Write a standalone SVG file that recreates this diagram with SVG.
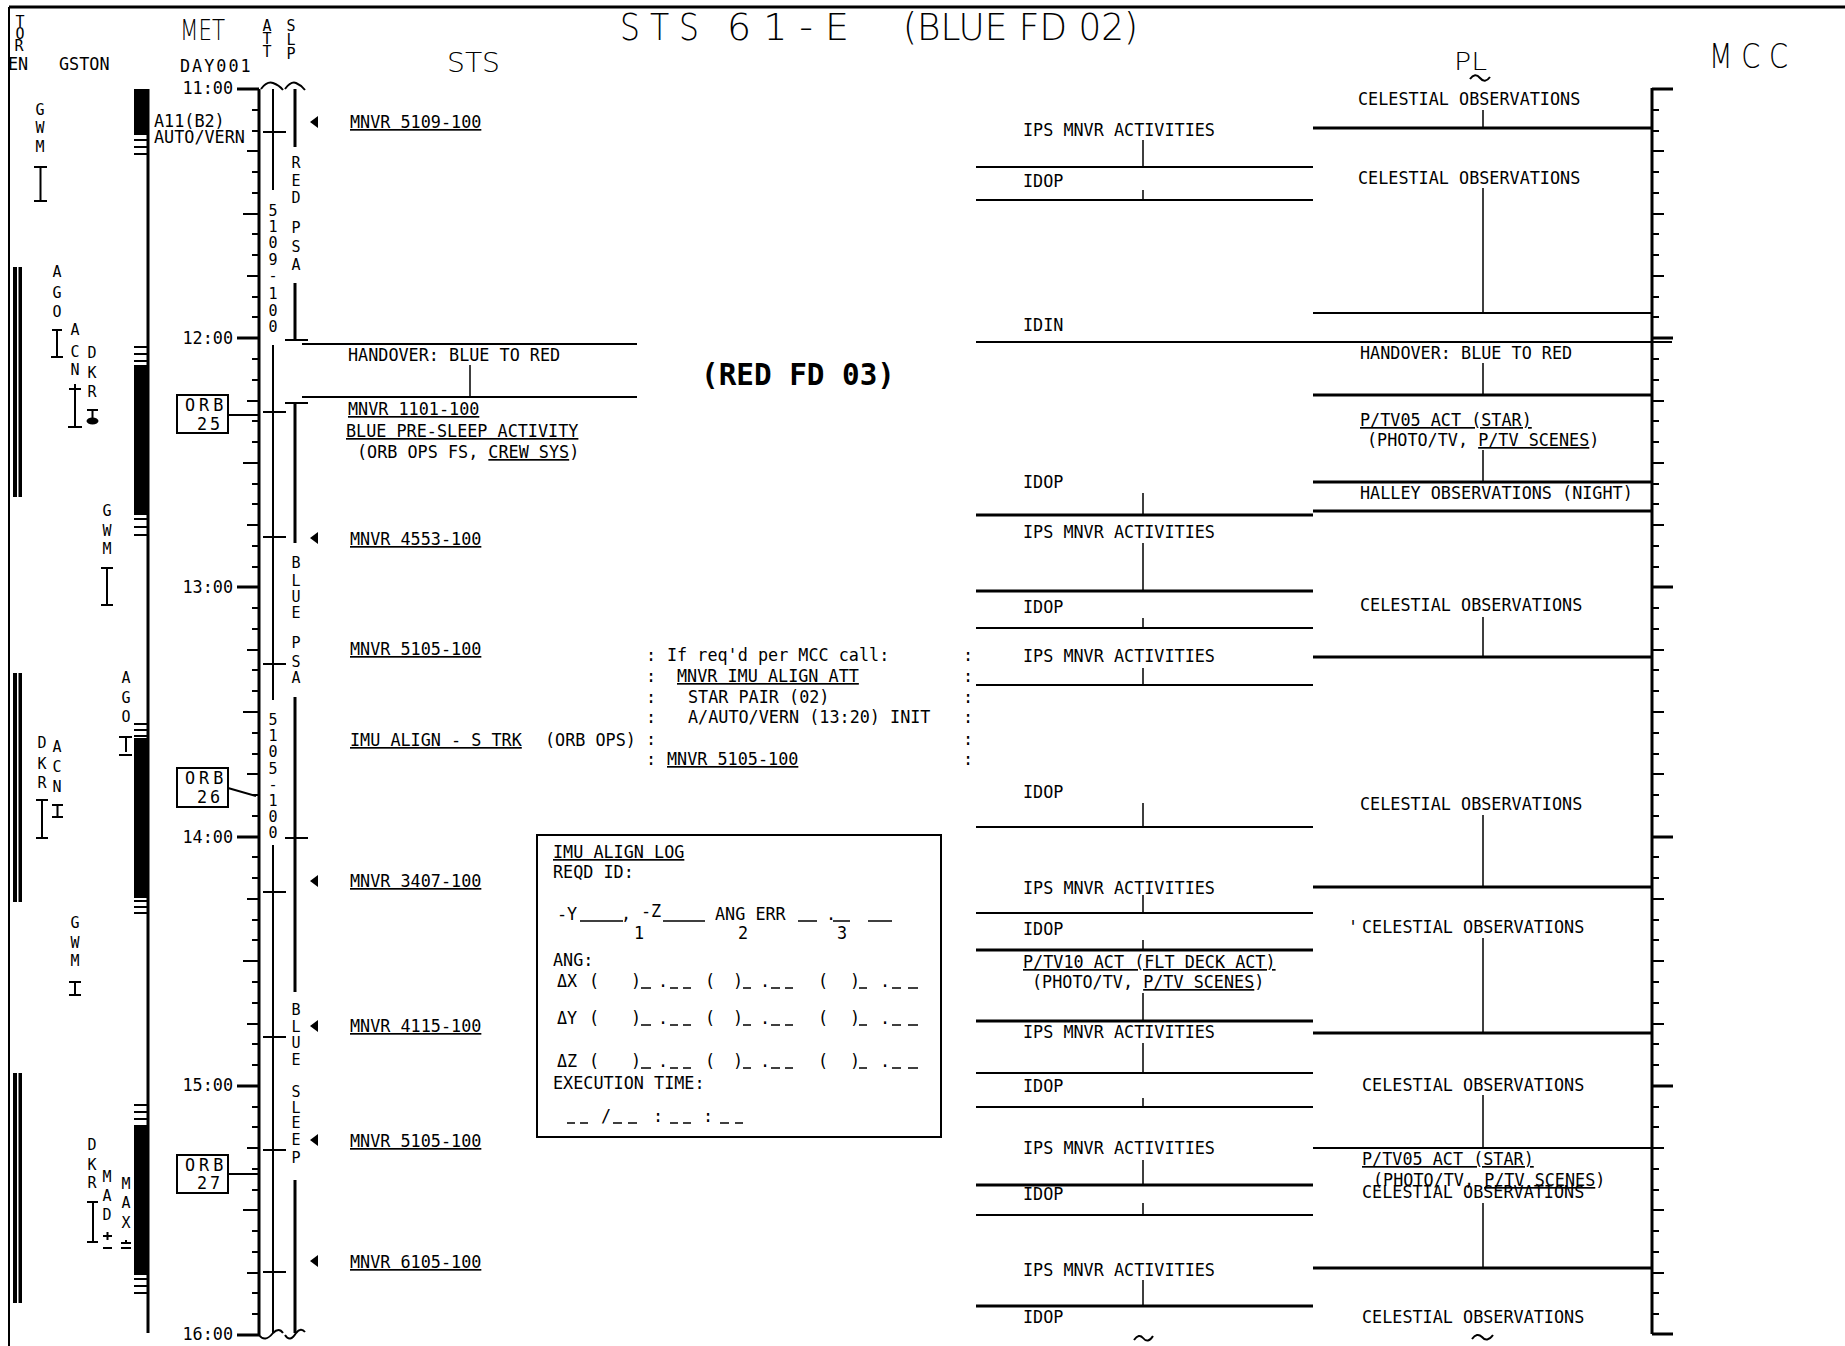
<svg xmlns="http://www.w3.org/2000/svg" width="1845" height="1346" viewBox="0 0 1845 1346">
<style>
text{fill:#000}
.t{font-family:"DejaVu Sans Mono","Liberation Mono",monospace;font-size:16.8px}
.s{font-family:"DejaVu Sans Mono","Liberation Mono",monospace;font-size:15px;text-anchor:middle}
.h{font-family:"DejaVu Sans","Liberation Sans",sans-serif;font-weight:200}
.b{font-family:"DejaVu Sans Mono","Liberation Mono",monospace;font-weight:bold}
.u{text-decoration:underline}
.l1{stroke:#000;stroke-width:1.5;fill:none}
.l2{stroke:#000;stroke-width:2;fill:none}
.l3{stroke:#000;stroke-width:3;fill:none}
</style>
<rect width="1845" height="1346" fill="#fff"/>

<g id="page-border">
<path class="l2" d="M9 1346V7"/>
<path class="l3" d="M9 7H1845"/>
</g>

<g id="headers">
<text class="s" font-size="11"><tspan x="20" y="27">T</tspan><tspan x="20" y="39">O</tspan><tspan x="19" y="51">R</tspan></text>
<text class="t" x="8" y="70" font-size="14">EN</text>
<text class="t" x="59" y="70">GSTON</text>
<text class="h" x="180" y="40" font-size="28" textLength="45" lengthAdjust="spacingAndGlyphs">MET</text>
<text class="t" x="180" y="72" letter-spacing="2">DAY001</text>
<text class="s" font-size="14"><tspan x="267" y="31">A</tspan><tspan x="267" y="44">T</tspan><tspan x="267" y="57">T</tspan></text>
<text class="s" font-size="14"><tspan x="291" y="31">S</tspan><tspan x="291" y="45">L</tspan><tspan x="291" y="59">P</tspan></text>
<text class="h" x="447" y="72" font-size="26" textLength="53" lengthAdjust="spacingAndGlyphs">STS</text>
<text class="h" x="620" y="40" font-size="37" textLength="79" lengthAdjust="spacingAndGlyphs">S T S</text>
<text class="h" x="727" y="40" font-size="37" textLength="122" lengthAdjust="spacingAndGlyphs">6 1 - E</text>
<text class="h" x="903" y="40" font-size="37" textLength="235" lengthAdjust="spacingAndGlyphs">(BLUE FD 02)</text>
<text class="h" x="1454" y="70" font-size="24" textLength="33" lengthAdjust="spacingAndGlyphs">PL</text>
<path class="l2" d="M1470 79Q1475 72 1480 78Q1485 84 1490 77"/>
<text class="h" x="1709" y="68" font-size="34" textLength="79" lengthAdjust="spacingAndGlyphs">M C C</text>
</g>

<g id="met-axis">
<path class="l3" d="M259 89V1335"/>
<path class="l3" d="M237 89H259M237 338H259M237 587H259M237 837H259M237 1086H259M237 1335H259"/>
<path class="l2" d="M243 214H259M243 463H259M243 712H259M243 961H259M243 1210H259M247 151H259M247 276H259M247 401H259M247 525H259M247 650H259M247 774H259M247 899H259M247 1024H259M247 1148H259M247 1273H259"/>
<path class="l2" d="M252 110H259M252 131H259M252 172H259M252 193H259M252 234H259M252 255H259M252 297H259M252 317H259M252 359H259M252 380H259M252 421H259M252 442H259M252 484H259M252 504H259M252 546H259M252 567H259M252 608H259M252 629H259M252 670H259M252 691H259M252 733H259M252 754H259M252 795H259M252 816H259M252 857H259M252 878H259M252 920H259M252 940H259M252 982H259M252 1003H259M252 1044H259M252 1065H259M252 1107H259M252 1127H259M252 1169H259M252 1190H259M252 1231H259M252 1252H259M252 1293H259M252 1314H259"/>
<text class="t" text-anchor="end" x="233" y="94">11:00</text>
<text class="t" text-anchor="end" x="233" y="344">12:00</text>
<text class="t" text-anchor="end" x="233" y="593">13:00</text>
<text class="t" text-anchor="end" x="233" y="843">14:00</text>
<text class="t" text-anchor="end" x="233" y="1091">15:00</text>
<text class="t" text-anchor="end" x="233" y="1340">16:00</text>
<path class="l2" d="M261 89Q267 81 273 83Q279 85 283 90M285 89Q291 81 296 83Q301 85 305 90"/>
<path class="l2" d="M259 1335Q265 1343 273 1333Q279 1327 283 1333M285 1335Q290 1343 296 1333Q301 1327 305 1332"/>
</g>

<g id="att-slp">
<path class="l2" d="M273 89V190M273 345V700M273 845V1333"/>
<path class="l3" d="M295 89V147M295 283V340M295 403V543M295 697V992M295 1180V1333"/>
<path class="l2" d="M285 340H308M285 403H308M285 838H308"/>
<path class="l2" d="M263 132H286M263 412H286M263 537H286M263 664H286M263 892H286M263 1037H286M263 1150H286M263 1272H286"/>
<text class="s" font-size="16"><tspan x="273" y="216">5</tspan><tspan x="273" y="232">1</tspan><tspan x="273" y="248">0</tspan><tspan x="273" y="265">9</tspan><tspan x="273" y="281">-</tspan><tspan x="273" y="299">1</tspan><tspan x="273" y="316">0</tspan><tspan x="273" y="332">0</tspan></text>
<text class="s" font-size="16"><tspan x="273" y="725">5</tspan><tspan x="273" y="741">1</tspan><tspan x="273" y="757">0</tspan><tspan x="273" y="774">5</tspan><tspan x="273" y="790">-</tspan><tspan x="273" y="806">1</tspan><tspan x="273" y="822">0</tspan><tspan x="273" y="838">0</tspan></text>
<text class="s" font-size="16"><tspan x="296" y="168">R</tspan><tspan x="296" y="186">E</tspan><tspan x="296" y="203">D</tspan><tspan x="296" y="233">P</tspan><tspan x="296" y="252">S</tspan><tspan x="296" y="270">A</tspan></text>
<text class="s" font-size="16"><tspan x="296" y="568">B</tspan><tspan x="296" y="586">L</tspan><tspan x="296" y="602">U</tspan><tspan x="296" y="618">E</tspan><tspan x="296" y="648">P</tspan><tspan x="296" y="667">S</tspan><tspan x="296" y="683">A</tspan></text>
<text class="s" font-size="16"><tspan x="296" y="1015">B</tspan><tspan x="296" y="1032">L</tspan><tspan x="296" y="1048">U</tspan><tspan x="296" y="1065">E</tspan><tspan x="296" y="1097">S</tspan><tspan x="296" y="1113">L</tspan><tspan x="296" y="1128">E</tspan><tspan x="296" y="1145">E</tspan><tspan x="296" y="1163">P</tspan></text>
</g>

<g id="gston">
<rect x="13" y="267" width="4" height="230"/><rect x="18.5" y="267" width="3.5" height="230"/>
<rect x="13" y="673" width="4" height="229"/><rect x="18.5" y="673" width="3.5" height="229"/>
<rect x="13" y="1073" width="4" height="230"/><rect x="18.5" y="1073" width="3.5" height="230"/>
<path class="l3" d="M148 89V1333"/>
<rect x="134" y="89" width="15" height="46"/>
<rect x="134" y="365" width="15" height="150"/>
<rect x="134" y="738" width="15" height="160"/>
<rect x="134" y="1125" width="15" height="150"/>
<path class="l2" d="M134 140H149M134 147H149M134 154H149M134 347H149M134 354H149M134 361H149M134 519H149M134 527H149M134 535H149M134 724H149M134 730H149M134 736H149M134 901H149M134 907H149M134 913H149M134 1105H149M134 1112H149M134 1119H149M134 1279H149M134 1286H149M134 1293H149"/>
<text class="t" x="154" y="127">A11(B2)</text>
<text class="t" x="154" y="143">AUTO/VERN</text>
<text class="s"><tspan x="40" y="115">G</tspan><tspan x="40" y="133">W</tspan><tspan x="40" y="152">M</tspan></text>
<text class="s"><tspan x="57" y="277">A</tspan><tspan x="57" y="298">G</tspan><tspan x="57" y="317">O</tspan></text>
<text class="s"><tspan x="75" y="335">A</tspan><tspan x="75" y="357">C</tspan><tspan x="75" y="375">N</tspan></text>
<text class="s"><tspan x="92" y="358">D</tspan><tspan x="92" y="378">K</tspan><tspan x="92" y="397">R</tspan></text>
<text class="s"><tspan x="107" y="516">G</tspan><tspan x="107" y="536">W</tspan><tspan x="107" y="554">M</tspan></text>
<text class="s"><tspan x="126" y="683">A</tspan><tspan x="126" y="703">G</tspan><tspan x="126" y="722">O</tspan></text>
<text class="s"><tspan x="42" y="748">D</tspan><tspan x="42" y="769">K</tspan><tspan x="42" y="788">R</tspan></text>
<text class="s"><tspan x="57" y="752">A</tspan><tspan x="57" y="772">C</tspan><tspan x="57" y="792">N</tspan></text>
<text class="s"><tspan x="75" y="928">G</tspan><tspan x="75" y="948">W</tspan><tspan x="75" y="966">M</tspan></text>
<text class="s"><tspan x="92" y="1150">D</tspan><tspan x="92" y="1170">K</tspan><tspan x="92" y="1188">R</tspan></text>
<text class="s"><tspan x="107" y="1182">M</tspan><tspan x="107" y="1201">A</tspan><tspan x="107" y="1220">D</tspan></text>
<text class="s"><tspan x="126" y="1189">M</tspan><tspan x="126" y="1208">A</tspan><tspan x="126" y="1228">X</tspan></text>
<path class="l2" d="M34 167H47M40.5 167V201M34 201H47"/>
<path class="l2" d="M52 330H62M57 330V357M51 357H63"/>
<path class="l2" d="M69 389H81M75 384V427M68 427H82"/>
<path class="l2" d="M87 410H98M92.5 410V418"/>
<ellipse cx="92.5" cy="421" rx="6" ry="3.5"/>
<path class="l2" d="M101 568H113M107 568V605M101 605H113"/>
<path class="l2" d="M119 737H132M126 737V752M119 755H132"/>
<path class="l2" d="M36 800H48M42 800V838M36 838H48"/>
<path class="l2" d="M52 805H63M57.5 805V817M52 817H63"/>
<path class="l2" d="M69 982H81M75 982V995M69 995H81"/>
<path class="l2" d="M87 1202H98M93 1202V1242M87 1242H98"/>
<path class="l2" d="M103 1236H112M107.5 1232V1240M103 1248H112"/>
<path class="l2" d="M121 1243H131M126 1240V1243M121 1248H131"/>
</g>

<g id="orb25"><rect class="l2" x="177" y="395" width="51" height="38"/><text class="t" font-size="16" x="185" y="411" letter-spacing="4">ORB</text><text class="t" font-size="16" x="197" y="430" letter-spacing="3">25</text></g>
<g id="orb26"><rect class="l2" x="177" y="768" width="51" height="39"/><text class="t" font-size="16" x="185" y="784" letter-spacing="4">ORB</text><text class="t" font-size="16" x="197" y="803" letter-spacing="3">26</text></g>
<g id="orb27"><rect class="l2" x="177" y="1155" width="51" height="38"/><text class="t" font-size="16" x="185" y="1171" letter-spacing="4">ORB</text><text class="t" font-size="16" x="197" y="1189" letter-spacing="3">27</text></g>

<g id="sts-activities">
<path d="M310 122L318 116V128ZM310 538L318 532V544ZM310 881L318 875V887ZM310 1026L318 1020V1032ZM310 1140L318 1134V1146ZM310 1261L318 1255V1267Z"/>
<text class="t u" x="350" y="128">MNVR  5109-100</text>
<text class="t" x="348" y="361">HANDOVER:  BLUE TO RED</text>
<text class="t u" x="348" y="415">MNVR  1101-100</text>
<text class="t u" x="346" y="437">BLUE PRE-SLEEP ACTIVITY</text>
<text class="t" x="357" y="458">(ORB OPS FS, <tspan class="u">CREW SYS</tspan>)</text>
<text class="t u" x="350" y="545">MNVR  4553-100</text>
<text class="t u" x="350" y="655">MNVR  5105-100</text>
<text class="t" x="350" y="746"><tspan class="u">IMU ALIGN - S TRK</tspan></text>
<text class="t" x="545" y="746">(ORB OPS)</text>
<text class="t u" x="350" y="887">MNVR  3407-100</text>
<text class="t u" x="350" y="1032">MNVR  4115-100</text>
<text class="t u" x="350" y="1147">MNVR  5105-100</text>
<text class="t u" x="350" y="1268">MNVR  6105-100</text>
<text class="b" x="701" y="385" font-size="30" textLength="194" lengthAdjust="spacingAndGlyphs">(RED FD 03)</text>
</g>

<g id="contingency-note">
<text class="t" x="646" y="661">:</text><text class="t" x="667" y="661">If req'd per MCC call:</text>
<text class="t" x="646" y="682">:</text><text class="t u" x="677" y="682">MNVR IMU ALIGN ATT</text>
<text class="t" x="646" y="703">:</text><text class="t" x="688" y="703">STAR PAIR (02)</text>
<text class="t" x="646" y="723">:</text><text class="t" x="688" y="723">A/AUTO/VERN (13:20) INIT</text>
<text class="t" x="646" y="745">:</text>
<text class="t" x="646" y="765">:</text><text class="t u" x="667" y="765">MNVR  5105-100</text>
<text class="t" x="963" y="661">:</text><text class="t" x="963" y="682">:</text><text class="t" x="963" y="703">:</text><text class="t" x="963" y="723">:</text><text class="t" x="963" y="745">:</text><text class="t" x="963" y="765">:</text>
</g>

<g id="imu-align-log">
<rect class="l2" x="537" y="835" width="404" height="302"/>
<text class="t u" x="553" y="858">IMU ALIGN LOG</text>
<text class="t" x="553" y="878">REQD ID:</text>
<text class="t" x="557" y="920">-Y</text><text class="t" x="621" y="920">,</text><text class="t" x="641" y="917">-Z</text>
<text class="t" x="715" y="920">ANG ERR</text><text class="t" x="826" y="920">.</text>
<path class="l1" d="M580 921H623M663 921H705M798 921H817M833 921H850M868 921H892"/>
<text class="t" x="634" y="939">1</text><text class="t" x="738" y="939">2</text><text class="t" x="837" y="939">3</text>
<text class="t" x="553" y="966">ANG:</text>
<text class="t" y="987"><tspan x="557">ΔX</tspan><tspan x="589">(</tspan><tspan x="631">)</tspan><tspan x="658">.</tspan><tspan x="705">(</tspan><tspan x="733">)</tspan><tspan x="760">.</tspan><tspan x="818">(</tspan><tspan x="850">)</tspan><tspan x="880">.</tspan></text>
<path class="l1" d="M641 988H651M670 988H678M683 988H691M743 988H751M771 988H780M785 988H793M859 988H867M892 988H901M908 988H918"/>
<text class="t" y="1024"><tspan x="557">ΔY</tspan><tspan x="589">(</tspan><tspan x="631">)</tspan><tspan x="658">.</tspan><tspan x="705">(</tspan><tspan x="733">)</tspan><tspan x="760">.</tspan><tspan x="818">(</tspan><tspan x="850">)</tspan><tspan x="880">.</tspan></text>
<path class="l1" d="M641 1025H651M670 1025H678M683 1025H691M743 1025H751M771 1025H780M785 1025H793M859 1025H867M892 1025H901M908 1025H918"/>
<text class="t" y="1067"><tspan x="557">ΔZ</tspan><tspan x="589">(</tspan><tspan x="631">)</tspan><tspan x="658">.</tspan><tspan x="705">(</tspan><tspan x="733">)</tspan><tspan x="760">.</tspan><tspan x="818">(</tspan><tspan x="850">)</tspan><tspan x="880">.</tspan></text>
<path class="l1" d="M641 1068H651M670 1068H678M683 1068H691M743 1068H751M771 1068H780M785 1068H793M859 1068H867M892 1068H901M908 1068H918"/>
<text class="t" x="553" y="1089">EXECUTION TIME:</text>
<text class="t" y="1122"><tspan x="601">/</tspan><tspan x="653">:</tspan><tspan x="703">:</tspan></text>
<path class="l1" d="M567 1123H575M580 1123H588M613 1123H622M628 1123H637M670 1123H678M683 1123H691M720 1123H729M735 1123H743"/>
</g>

<g id="connectors">
<path class="l2" d="M302 344H637M302 397H637"/>
<path class="l1" d="M470 365V397"/>
<path class="l2" d="M228 415H259M228 788L256 796M228 1174H259"/>
<path class="l2" d="M976 167H1313M976 200H1313M976 342H1313M976 628H1313M976 685H1313M976 827H1313M976 913H1313M976 1073H1313M976 1107H1313M976 1215H1313"/>
<path class="l3" d="M976 515H1313M976 591H1313M976 950H1313M976 1021H1313M976 1185H1313M976 1306H1313"/>
<path class="l1" d="M1143 140V167M1143 190V200M1143 493V515M1143 543V591M1143 618V628M1143 668V685M1143 803V827M1143 895V913M1143 940V950M1143 993V1021M1143 1043V1073M1143 1098V1107M1143 1160V1185M1143 1203V1215M1143 1280V1306"/>
<path class="l3" d="M1313 128H1652M1313 395H1652M1313 482H1652M1313 511H1652M1313 657H1652M1313 887H1652M1313 1033H1652M1313 1268H1652"/>
<path class="l2" d="M1313 313H1652M1313 342H1672M1313 1148H1652"/>
<path class="l1" d="M1483 110V128M1483 188V313M1483 363V395M1483 450V482M1483 617V657M1483 815V887M1483 938V1033M1483 1095V1148M1483 1203V1268"/>
</g>

<g id="ips-column">
<text class="t" x="1023" y="136">IPS MNVR ACTIVITIES</text>
<text class="t" x="1023" y="187">IDOP</text>
<text class="t" x="1023" y="331">IDIN</text>
<text class="t" x="1023" y="488">IDOP</text>
<text class="t" x="1023" y="538">IPS MNVR ACTIVITIES</text>
<text class="t" x="1023" y="613">IDOP</text>
<text class="t" x="1023" y="662">IPS MNVR ACTIVITIES</text>
<text class="t" x="1023" y="798">IDOP</text>
<text class="t" x="1023" y="894">IPS MNVR ACTIVITIES</text>
<text class="t" x="1023" y="935">IDOP</text>
<text class="t u" x="1023" y="968">P/TV10 ACT (FLT DECK ACT)</text>
<text class="t" x="1032" y="988">(PHOTO/TV, <tspan class="u">P/TV SCENES</tspan>)</text>
<text class="t" x="1023" y="1038">IPS MNVR ACTIVITIES</text>
<text class="t" x="1023" y="1092">IDOP</text>
<text class="t" x="1023" y="1154">IPS MNVR ACTIVITIES</text>
<text class="t" x="1023" y="1200">IDOP</text>
<text class="t" x="1023" y="1276">IPS MNVR ACTIVITIES</text>
<text class="t" x="1023" y="1323">IDOP</text>
<path class="l2" d="M1134 1340Q1139 1333 1143 1338Q1148 1344 1153 1336"/>
</g>

<g id="pl-column">
<text class="t" x="1358" y="105">CELESTIAL OBSERVATIONS</text>
<text class="t" x="1358" y="184">CELESTIAL OBSERVATIONS</text>
<text class="t" x="1360" y="359">HANDOVER:  BLUE TO RED</text>
<text class="t u" x="1360" y="426">P/TV05 ACT (STAR)</text>
<text class="t" x="1367" y="446">(PHOTO/TV, <tspan class="u">P/TV SCENES</tspan>)</text>
<text class="t" x="1360" y="499">HALLEY OBSERVATIONS (NIGHT)</text>
<text class="t" x="1360" y="611">CELESTIAL OBSERVATIONS</text>
<text class="t" x="1360" y="810">CELESTIAL OBSERVATIONS</text>
<text class="t" x="1348" y="933" font-size="10">'</text>
<text class="t" x="1362" y="933">CELESTIAL OBSERVATIONS</text>
<text class="t" x="1362" y="1091">CELESTIAL OBSERVATIONS</text>
<text class="t u" x="1362" y="1165">P/TV05 ACT (STAR)</text>
<text class="t" x="1373" y="1186">(PHOTO/TV, <tspan class="u">P/TV SCENES</tspan>)</text>
<text class="t" x="1362" y="1198">CELESTIAL OBSERVATIONS</text>
<text class="t" x="1362" y="1323">CELESTIAL OBSERVATIONS</text>
<path class="l2" d="M1472 1339Q1477 1332 1482 1337Q1487 1343 1493 1335"/>
</g>

<g id="mcc-axis">
<path class="l3" d="M1652 88V1334"/>
<path class="l3" d="M1652 89H1673M1652 338H1673M1652 587H1673M1652 837H1673M1652 1086H1673M1652 1334H1673"/>
<path class="l2" d="M1652 151H1664M1652 214H1664M1652 276H1664M1652 401H1664M1652 463H1664M1652 525H1664M1652 650H1664M1652 712H1664M1652 774H1664M1652 899H1664M1652 961H1664M1652 1024H1664M1652 1148H1664M1652 1210H1664M1652 1273H1664"/>
<path class="l2" d="M1652 110H1659M1652 131H1659M1652 172H1659M1652 193H1659M1652 234H1659M1652 255H1659M1652 297H1659M1652 317H1659M1652 359H1659M1652 380H1659M1652 421H1659M1652 442H1659M1652 484H1659M1652 504H1659M1652 546H1659M1652 567H1659M1652 608H1659M1652 629H1659M1652 670H1659M1652 691H1659M1652 733H1659M1652 754H1659M1652 795H1659M1652 816H1659M1652 857H1659M1652 878H1659M1652 920H1659M1652 940H1659M1652 982H1659M1652 1003H1659M1652 1044H1659M1652 1065H1659M1652 1107H1659M1652 1127H1659M1652 1169H1659M1652 1190H1659M1652 1231H1659M1652 1252H1659M1652 1293H1659M1652 1314H1659"/>
</g>
</svg>
